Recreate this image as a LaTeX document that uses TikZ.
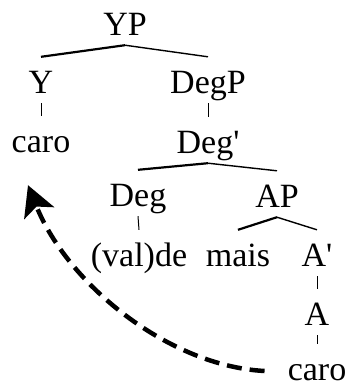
\documentclass[tikz,border=0pt]{standalone}
\usepackage{fontspec}
\setmainfont{Liberation Serif}
\usetikzlibrary{arrows.meta}

\tikzset{
  lbl/.style={anchor=base,text height=33pt,text depth=7pt,inner ysep=3pt,inner xsep=2pt},
  branch/.style={line width=1.4pt},
  lbranch/.style={line width=2.2pt},
  stem/.style={line width=1pt},
  movearrow/.style={line width=4.5pt,dash pattern=on 15pt off 8pt,-{Stealth[length=30pt,width=32pt,inset=7pt]}}
}

\begin{document}
\begin{tikzpicture}[x=1pt,y=1pt,font=\fontsize{34pt}{40pt}\selectfont]
      \useasboundingbox (0,0) rectangle (350,-383);
      % labels
      \node[lbl] (YP) at (125,-35) {YP};
      \node[lbl] (Y) at (41,-93) {Y};
      \node[lbl] (DegP) at (208,-93) {DegP};
      \node[lbl] (caro1) at (41,-152) {caro};
      \node[lbl] (Degbar) at (208,-153) {Deg\textquotesingle};
      \node[lbl] (Deg) at (138,-206) {Deg};
      \node[lbl] (AP) at (277,-207) {AP};
      \node[lbl] (valde) at (139,-266) {(val)de};
      \node[lbl] (mais) at (238,-266) {mais};
      \node[lbl] (Abar) at (317,-266) {A\textquotesingle};
      \node[lbl] (A) at (317,-325) {A};
      \node[lbl] (caro2) at (317,-380) {caro};
      % branches
      \draw[lbranch] (YP.south) -- (Y.north);
      \draw[branch] (YP.south) -- (DegP.north);
      \draw[stem] (Y.south) -- (caro1.north);
      \draw[stem] (DegP.south) -- (Degbar.north);
      \draw[lbranch] (Degbar.south) -- (Deg.north);
      \draw[branch] (Degbar.south) -- (AP.north);
      \draw[stem] (Deg.south) -- (valde.north);
      \draw[lbranch] (AP.south) -- (mais.north);
      \draw[branch] (AP.south) -- (Abar.north);
      \draw[stem] (Abar.south) -- (A.north);
      \draw[stem] (A.south) -- (caro2.north);
      % movement
      \draw[movearrow] ([shift={(-21,-4)}]caro2.west) .. controls +(-95,5) and +(40,-100) .. ([shift={(-13,-23)}]caro1.south);
\end{tikzpicture}
\end{document}
